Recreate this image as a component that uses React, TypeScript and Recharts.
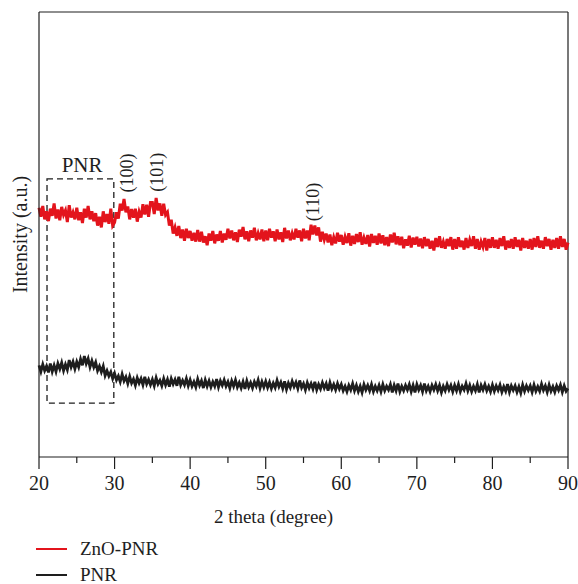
import React from 'react';
import { LineChart, Line, XAxis, YAxis, ReferenceArea, ReferenceDot, ReferenceLine } from 'recharts';

const FONT = '"Liberation Serif", "Times New Roman", serif';
const INK = '#1e1e1e';
const RED = '#e3141c';

// 2θ sampling: 20° to 90°, every 0.25°
const ANGLE_START = 20;
const ANGLE_STEP = 0.25;

const znoPnr = [
  56.0, 54.0, 56.4, 53.4, 55.2, 53.0, 55.8, 54.2, 57.0, 53.6, 55.6, 53.2, 56.2, 54.4, 55.4, 52.8, 56.6, 53.8, 55.0, 53.4,
  56.0, 53.2, 55.0, 52.6, 55.8, 53.8, 56.4, 53.4, 55.2, 53.0, 54.8, 52.0, 54.0, 51.6, 55.2, 52.8, 54.6, 52.4, 55.8, 52.0,
  52.7, 55.0, 53.6, 56.9, 55.4, 58.0, 55.0, 56.3, 53.4, 55.7, 53.8, 55.8, 52.9, 55.1, 53.8, 56.8, 54.5, 56.7, 54.0, 57.2,
  57.2, 54.6, 58.2, 55.4, 57.0, 54.2, 56.9, 54.4, 55.0, 52.0, 53.3, 50.2, 51.6, 49.7, 51.9, 49.2, 51.1, 48.6, 51.3, 49.2,
  50.8, 48.6, 50.4, 48.4, 51.0, 48.4, 50.6, 48.2, 49.6, 47.6, 50.2, 48.6, 50.8, 48.0, 50.0, 48.6, 50.8, 48.2, 50.2, 48.8,
  51.3, 49.1, 50.9, 48.7, 50.5, 48.3, 51.1, 49.5, 51.7, 48.9, 50.7, 48.5, 50.9, 49.3, 51.5, 48.7, 50.3, 48.9, 51.1, 48.5,
  50.9, 48.7, 51.3, 49.3, 50.7, 48.5, 51.1, 48.9, 50.5, 48.3, 51.5, 49.1, 50.9, 48.7, 50.3, 48.9, 51.3, 49.3, 50.9, 48.5,
  51.3, 49.1, 50.9, 48.7, 52.2, 50.0, 52.0, 49.8, 51.6, 48.4, 50.6, 48.8, 50.2, 48.2, 50.0, 47.6, 49.4, 48.0, 50.4, 48.4,
  49.9, 47.7, 49.5, 48.1, 50.3, 47.5, 49.7, 47.9, 50.1, 48.3, 50.5, 47.7, 49.3, 47.9, 49.9, 47.3, 50.1, 48.1, 49.7, 47.7,
  50.2, 48.0, 49.8, 47.6, 49.4, 47.4, 50.0, 48.2, 50.4, 47.8, 49.6, 47.6, 49.5, 46.9, 48.9, 47.5, 49.7, 47.1, 49.3, 47.7,
  49.5, 47.3, 49.1, 46.9, 49.4, 47.4, 49.0, 46.8, 48.6, 46.4, 49.2, 47.2, 49.6, 47.0, 48.4, 46.8, 49.0, 47.4, 49.4, 46.6,
  49.0, 46.8, 49.4, 47.2, 48.6, 46.6, 49.2, 47.0, 48.8, 47.4, 49.6, 46.8, 49.0, 46.6, 48.4, 47.2, 49.2, 46.4, 49.0, 47.0,
  49.4, 47.0, 48.8, 46.8, 49.2, 47.4, 49.6, 46.6, 48.6, 47.0, 49.0, 46.8, 49.4, 47.2, 48.8, 46.4, 49.2, 47.0, 48.6, 46.8,
  49.0, 46.6, 49.2, 47.2, 49.6, 47.0, 48.6, 46.8, 49.4, 47.4, 49.0, 46.6, 48.8, 47.0, 49.2, 46.8, 49.6, 47.2, 49.0, 46.6,
  48.2,
];

const pnr = [
  20.6, 19.2, 20.8, 19.4, 20.4, 19.0, 21.0, 19.2, 20.6, 19.2, 21.0, 19.8, 21.2, 19.4, 20.8, 19.6, 21.8, 20.2, 21.4, 19.8,
  21.4, 20.2, 22.0, 20.6, 22.7, 21.0, 22.1, 20.2, 21.6, 20.2, 21.3, 19.4, 20.4, 19.1, 20.4, 18.3, 19.4, 18.2, 19.1, 17.6,
  18.8, 17.3, 18.2, 16.9, 18.6, 17.1, 18.0, 16.5, 18.1, 16.6, 17.5, 16.1, 17.8, 16.6, 17.6, 16.2, 18.0, 16.4, 17.4, 16.2,
  17.4, 16.0, 17.8, 16.4, 17.2, 16.0, 17.6, 16.2, 17.4, 15.8, 17.6, 16.4, 17.4, 16.0, 18.0, 16.2, 17.2, 16.2, 17.6, 16.0,
  17.3, 15.9, 16.9, 15.7, 17.5, 16.1, 17.1, 15.5, 17.3, 15.9, 17.1, 15.7, 16.9, 15.9, 17.5, 15.7, 17.1, 16.1, 17.3, 15.9,
  16.9, 15.5, 17.1, 15.9, 17.3, 15.7, 16.7, 15.5, 16.9, 15.3, 17.1, 15.7, 16.7, 15.5, 16.9, 15.9, 17.3, 15.5, 16.9, 15.7,
  17.0, 15.6, 16.8, 15.4, 16.6, 15.6, 17.2, 15.8, 16.8, 15.4, 17.0, 15.2, 16.6, 15.6, 17.0, 15.8, 16.8, 15.4, 17.2, 15.6,
  16.5, 15.1, 16.7, 15.5, 16.5, 15.3, 16.9, 15.1, 16.3, 15.3, 16.7, 15.5, 16.5, 14.9, 16.7, 15.3, 16.3, 15.1, 16.5, 15.3,
  16.3, 14.9, 15.9, 14.7, 16.1, 15.1, 16.5, 14.9, 16.1, 14.7, 15.9, 14.5, 16.3, 15.1, 16.1, 14.9, 16.3, 14.7, 15.9, 14.9,
  16.1, 14.7, 16.3, 14.9, 15.9, 15.1, 16.3, 14.5, 16.1, 14.9, 16.5, 14.7, 15.9, 14.9, 16.1, 15.1, 16.3, 14.7, 16.1, 14.5,
  16.3, 15.1, 16.1, 14.7, 16.5, 14.9, 15.9, 14.7, 16.1, 15.1, 16.3, 14.9, 16.1, 14.5, 15.9, 14.9, 16.3, 15.1, 16.1, 14.7,
  16.1, 14.9, 16.3, 14.7, 15.9, 15.1, 16.5, 14.9, 16.1, 14.7, 15.9, 14.9, 16.3, 14.5, 16.1, 15.1, 16.3, 14.9, 15.9, 14.7,
  16.2, 14.8, 16.0, 15.0, 16.2, 14.6, 15.8, 14.8, 16.4, 14.6, 16.0, 15.0, 16.0, 14.6, 15.8, 14.4, 16.2, 14.8, 16.0, 15.0,
  16.0, 14.6, 16.2, 14.8, 15.8, 14.8, 16.4, 15.0, 16.0, 14.6, 16.2, 14.8, 15.8, 14.6, 16.0, 15.0, 16.2, 14.6, 16.0, 14.8,
  15.4,
];

const xTicks = [20, 25, 30, 35, 40, 45, 50, 55, 60, 65, 70, 75, 80, 85, 90];

const peakLabels = [
  { theta: 31.6, y: 63.8, text: '(100)' },
  { theta: 35.6, y: 64.0, text: '(101)' },
  { theta: 56.2, y: 57.3, text: '(110)' },
];

const boxRegion = { x1: 21.06, x2: 29.9, y1: 12.1, y2: 62.5 };
const boxTitle = { theta: 25.7, y: 65.6, text: 'PNR' };

const legendItems = [
  { name: 'ZnO-PNR', color: RED, width: 1.2 },
  { name: 'PNR', color: INK, width: 1.8 },
];

const data = znoPnr.map((v, i) => ({
  theta: ANGLE_START + i * ANGLE_STEP,
  zno: v,
  pnr: pnr[i],
}));

const XTick = (props: any) => {
  const { x, y, payload } = props;
  const major = payload.value % 10 === 0;
  return (
    <g>
      <line x1={x} x2={x} y1={y} y2={y + (major ? 12 : 6)} stroke={INK} strokeWidth={1.2} />
      {major && (
        <text x={x} y={y + 33} textAnchor="middle" fontFamily={FONT} fontSize={20} fill={INK}>
          {payload.value}
        </text>
      )}
    </g>
  );
};

const XLabel = (props: any) => {
  const vb = props.viewBox || {};
  return (
    <text
      x={vb.x + vb.width / 2 - 30}
      y={vb.y + 66}
      textAnchor="middle"
      fontFamily={FONT}
      fontSize={19}
      fill={INK}
    >
      2 theta (degree)
    </text>
  );
};

const YLabel = (props: any) => {
  const vb = props.viewBox || {};
  const cx = vb.x + 12;
  const cy = vb.y + vb.height / 2;
  return (
    <text
      x={cx}
      y={cy}
      transform={`rotate(-90 ${cx} ${cy})`}
      textAnchor="middle"
      dominantBaseline="central"
      fontFamily={FONT}
      fontSize={20}
      fill={INK}
    >
      Intensity (a.u.)
    </text>
  );
};

const makeRotatedText = (text: string) => (p: any) => (
  <text
    x={p.cx}
    y={p.cy}
    transform={`rotate(-90 ${p.cx} ${p.cy})`}
    textAnchor="middle"
    dominantBaseline="central"
    fontFamily={FONT}
    fontSize={18}
    fill={INK}
  >
    {text}
  </text>
);

const makeText = (text: string) => (p: any) => (
  <text
    x={p.cx}
    y={p.cy}
    textAnchor="middle"
    dominantBaseline="central"
    fontFamily={FONT}
    fontSize={21}
    fill={INK}
  >
    {text}
  </text>
);

export default function App() {
  return (
    <div
      style={{
        position: 'fixed',
        left: 0,
        top: 0,
        width: 578,
        height: 584,
        overflow: 'hidden',
        background: '#fff',
        fontFamily: FONT,
      }}
    >
      <style>{'html, body { overflow: hidden; }'}</style>
      <div style={{ position: 'absolute', left: 8, top: 8 }}>
        <LineChart
          width={570}
          height={576}
          data={data}
          margin={{ top: 0, right: 10, bottom: 0, left: 0 }}
          style={{ overflow: 'visible' }}
        >
          <XAxis
            dataKey="theta"
            type="number"
            domain={[20, 90]}
            ticks={xTicks}
            interval={0}
            tickSize={0}
            tickMargin={0}
            tickLine={false}
            tick={<XTick />}
            height={127}
            axisLine={{ stroke: INK, strokeWidth: 1.2 }}
            label={<XLabel />}
          />
          <XAxis
            xAxisId="top"
            orientation="top"
            type="number"
            domain={[20, 90]}
            tick={false}
            tickLine={false}
            height={4}
            axisLine={{ stroke: INK, strokeWidth: 1.2 }}
          />
          <YAxis
            type="number"
            domain={[0, 100]}
            width={31}
            tick={false}
            tickLine={false}
            axisLine={{ stroke: INK, strokeWidth: 1.2 }}
            label={<YLabel />}
          />
          <ReferenceLine x={90} stroke={INK} strokeWidth={1.2} ifOverflow="visible" />
          <ReferenceArea
            x1={boxRegion.x1}
            x2={boxRegion.x2}
            y1={boxRegion.y1}
            y2={boxRegion.y2}
            fill="none"
            fillOpacity={0}
            stroke={INK}
            strokeWidth={1.3}
            strokeDasharray="6 4"
            ifOverflow="visible"
          />
          <Line
            dataKey="zno"
            name="ZnO-PNR"
            type="linear"
            stroke={RED}
            strokeWidth={3}
            dot={false}
            isAnimationActive={false}
          />
          <Line
            dataKey="pnr"
            name="PNR"
            type="linear"
            stroke={INK}
            strokeWidth={2.8}
            dot={false}
            isAnimationActive={false}
          />
          {peakLabels.map((pk) => (
            <ReferenceDot
              key={pk.text}
              x={pk.theta}
              y={pk.y}
              r={0}
              ifOverflow="visible"
              shape={makeRotatedText(pk.text)}
            />
          ))}
          <ReferenceDot
            x={boxTitle.theta}
            y={boxTitle.y}
            r={0}
            ifOverflow="visible"
            shape={makeText(boxTitle.text)}
          />
        </LineChart>
      </div>
      <div style={{ position: 'absolute', left: 36, top: 536 }}>
        {legendItems.map((it) => (
          <div
            key={it.name}
            style={{
              display: 'flex',
              alignItems: 'center',
              height: 26,
              fontSize: 19,
              lineHeight: '20px',
              color: INK,
            }}
          >
            <span
              style={{
                display: 'inline-block',
                width: 31,
                height: it.width,
                background: it.color,
                marginRight: 13,
              }}
            />
            <span>{it.name}</span>
          </div>
        ))}
      </div>
    </div>
  );
}
